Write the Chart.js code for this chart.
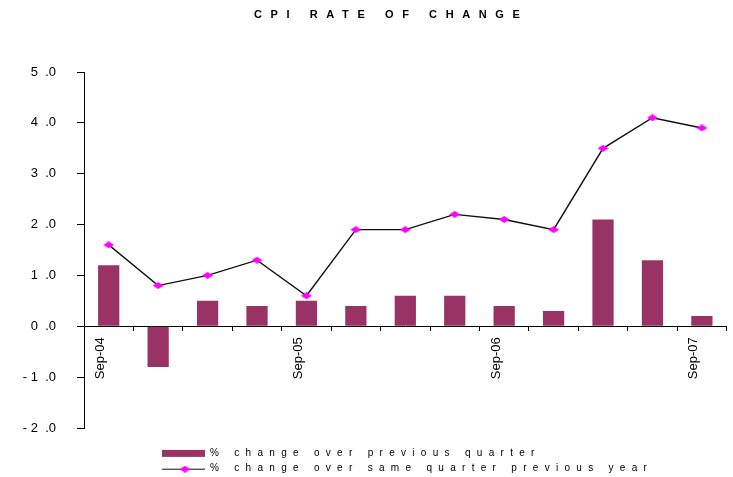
<!DOCTYPE html>
<html>
<head>
<meta charset="utf-8">
<title>CPI rate of change</title>
<script src="https://cdn.jsdelivr.net/npm/chart.js@4.4.1/dist/chart.umd.min.js"></script>
<style>
  html, body { margin: 0; padding: 0; background: #fff; }
  #wrap { width: 733px; height: 477px; position: relative; }
</style>
</head>
<body>
<div id="wrap"><canvas id="cpi"></canvas></div>
<script>
// CPI rate of change - quarterly bars plus annual line

var chartTitle = "CPI RATE OF CHANGE";

var quarters = ["Sep-04", "Dec-04", "Mar-05", "Jun-05", "Sep-05", "Dec-05", "Mar-06",
  "Jun-06", "Sep-06", "Dec-06", "Mar-07", "Jun-07", "Sep-07"];

var quarterlyChange = [1.2, -0.8, 0.5, 0.4, 0.5, 0.4, 0.6, 0.6, 0.4, 0.3, 2.1, 1.3, 0.2];
var annualChange = [1.6, 0.8, 1.0, 1.3, 0.6, 1.9, 1.9, 2.2, 2.1, 1.9, 3.5, 4.1, 3.9];

var quarterlyLabel = "% change over previous quarter";
var annualLabel = "% change over same quarter previous year";

var yTickLabels = ["- 2  .0", "- 1  .0", "0  .0", "1  .0", "2  .0", "3  .0", "4  .0", "5  .0"];

var fontFamily = '"Liberation Sans", Arial, sans-serif';

// squashed magenta diamond used as marker
var makeDiamond = function(w, h, color) {
  var c = document.createElement("canvas");
  c.width = w;
  c.height = h;
  var g = c.getContext("2d");
  g.fillStyle = color;
  g.beginPath();
  g.moveTo(0, h / 2);
  g.lineTo(w / 2, 0);
  g.lineTo(w, h / 2);
  g.lineTo(w / 2, h);
  g.closePath();
  g.fill();
  return c;
};
var diamond = makeDiamond(11, 7, "#FF00FF");

// title and stacked legend, drawn with letter spacing like the original
var spacedTextPlugin = {
  id: "spacedText",
  afterDraw: function(chart) {
    var ctx = chart.ctx;
    ctx.save();
    ctx.fillStyle = "#000";
    ctx.textBaseline = "middle";
    ctx.textAlign = "left";

    ctx.font = "bold 11px " + fontFamily;
    ctx.letterSpacing = "8.6px";
    ctx.fillText(chartTitle, 254, 15.3);

    ctx.font = "10px " + fontFamily;
    ctx.letterSpacing = "6.3px";
    chart.data.datasets.forEach(function(ds, i) {
      var y = chart.height - 23.6 + i * 15.3;
      if (ds.type === "line") {
        ctx.strokeStyle = ds.borderColor;
        ctx.lineWidth = 1;
        ctx.beginPath();
        ctx.moveTo(162, y + 0.5);
        ctx.lineTo(205, y + 0.5);
        ctx.stroke();
        ctx.drawImage(diamond, 185 - diamond.width / 2, y - diamond.height / 2 + 0.5);
      } else {
        ctx.fillStyle = ds.backgroundColor;
        ctx.fillRect(162, y - 3.5, 43, 7);
      }
      ctx.fillStyle = "#000";
      ctx.fillText(ds.label, 210, y);
    });
    ctx.restore();
  }
};

var ctx = document.getElementById("cpi").getContext("2d");
var chart = new Chart(ctx, {
  data: {
    labels: quarters,
    datasets: [
      {
        type: "bar",
        label: quarterlyLabel,
        data: quarterlyChange,
        backgroundColor: "#993366",
        borderWidth: 0,
        barPercentage: 0.43,
        categoryPercentage: 1.0,
        order: 1
      },
      {
        type: "line",
        label: annualLabel,
        data: annualChange,
        borderColor: "#111",
        borderWidth: 1.4,
        tension: 0,
        fill: false,
        pointStyle: diamond,
        pointRadius: 5,
        pointHoverRadius: 5,
        order: 0
      }
    ]
  },
  options: {
    responsive: true,
    maintainAspectRatio: false,
    devicePixelRatio: 1,
    animation: false,
    layout: { padding: { top: 72, bottom: 49, left: 0, right: -3 } },
    plugins: {
      legend: { display: false },
      title: { display: false },
      tooltip: { enabled: false }
    },
    scales: {
      x: {
        position: { y: 0 },
        offset: true,
        border: { color: "#000", width: 1 },
        grid: { drawOnChartArea: false, offset: true, color: "#000", tickLength: 4 },
        ticks: {
          autoSkip: false,
          maxRotation: 90,
          minRotation: 90,
          padding: 7,
          labelOffset: -8,
          color: "#000",
          font: { family: fontFamily, size: 13 },
          callback: function(val, index) {
            var l = quarters[index];
            return l.indexOf("Sep") === 0 ? l : "";
          }
        }
      },
      y: {
        min: -2,
        max: 5,
        border: { color: "#000", width: 1 },
        grid: { drawOnChartArea: false, color: "#000", tickLength: 7 },
        ticks: {
          stepSize: 1,
          padding: 21,
          color: "#000",
          font: { family: fontFamily, size: 13 },
          callback: function(val, index) {
            return yTickLabels[index];
          }
        },
        afterFit: function(scale) {
          scale.width = 84;
        }
      }
    }
  },
  plugins: [spacedTextPlugin]
});
</script>
</body>
</html>
